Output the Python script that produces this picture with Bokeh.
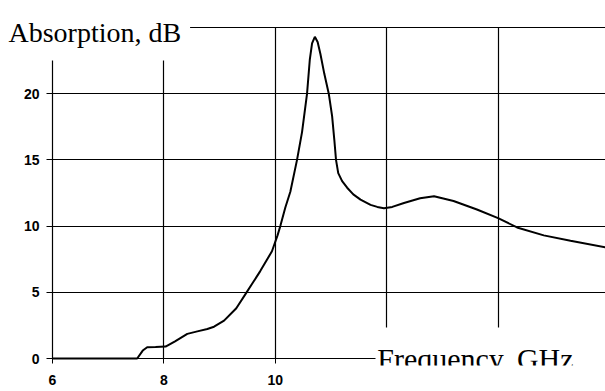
from bokeh.plotting import figure
from bokeh.models import (FixedTicker, Label, BoxAnnotation, Range1d,
                          AllLabels, LinearAxis)
from bokeh.embed import file_html
from bokeh.resources import INLINE

# Data
freq_ghz = [6.0, 7.0, 7.52, 7.62, 7.70, 7.85, 8.03, 8.2, 8.42, 8.6, 8.78, 8.9,
            9.08, 9.3, 9.47, 9.73, 9.94, 10.04, 10.09, 10.18, 10.27, 10.39,
            10.48, 10.57, 10.62, 10.66, 10.71, 10.76, 10.81, 10.88, 10.96,
            11.02, 11.06, 11.09, 11.13, 11.2, 11.29, 11.4, 11.53, 11.71,
            11.83, 11.95, 12.1, 12.31, 12.6, 12.85, 13.2, 13.62, 14.0, 14.34,
            14.82, 15.3, 15.93]
absorption_db = [0, 0, 0, 0.6, 0.85, 0.87, 0.9, 1.3, 1.86, 2.05, 2.23, 2.4,
                 2.86, 3.8, 4.9, 6.6, 8.1, 9.3, 10.0, 11.4, 12.6, 15.0,
                 17.1, 20.0, 22.6, 23.8, 24.3, 23.9, 23.0, 21.5, 20.0,
                 18.3, 16.5, 15.0, 14.0, 13.4, 12.9, 12.4, 12.0, 11.6,
                 11.45, 11.35, 11.45, 11.75, 12.1, 12.26, 11.9, 11.25, 10.6,
                 9.9, 9.3, 8.9, 8.4]

x_ticks = [6, 8, 10]
x_grid = [8, 10, 12, 14]
y_ticks = [0, 5, 10, 15, 20]
y_grid = [5, 10, 15, 20, 25]

W, H = 605, 391
BOTTOM_PANEL = 26             # height reserved for the x tick labels
FRAME_BOTTOM = H - BOTTOM_PANEL
KX, KY = 55.7, 13.24          # pixels per GHz / per dB
X0_PX, Y0_PX = 52, 358        # pixel position of (6 GHz, 0 dB)

p = figure(width=W, height=H, output_backend="svg", toolbar_location=None,
           x_axis_location=None,
           x_range=Range1d(6 - X0_PX / KX, 6 + (W - X0_PX) / KX),
           y_range=Range1d(-(FRAME_BOTTOM - Y0_PX) / KY, Y0_PX / KY),
           min_border=0, min_border_left=0, min_border_right=0,
           min_border_top=0, min_border_bottom=BOTTOM_PANEL)
p.outline_line_color = None
p.background_fill_color = "white"
p.border_fill_color = "white"

# grids
p.xgrid.ticker = FixedTicker(ticks=x_grid)
p.ygrid.ticker = FixedTicker(ticks=y_grid)
p.xgrid.cross_bounds = (0, 25)
p.ygrid.cross_bounds = (6, 17)
for g in (p.xgrid, p.ygrid):
    g.grid_line_color = "black"
    g.grid_line_width = 1.2
    g.grid_line_alpha = 1.0

# white boxes behind the axis titles (drawn under everything else)
p.add_layout(BoxAnnotation(right=8.47, bottom=22.5, fill_color="white",
                           fill_alpha=1, line_color=None, level="underlay"))
p.add_layout(BoxAnnotation(left=11.8, top=2.34, fill_color="white",
                           fill_alpha=1, line_color=None, level="underlay"))

# x axis line and ticks at 0 dB
xa = LinearAxis(fixed_location=0, ticker=FixedTicker(ticks=x_ticks),
                bounds=(6, 11.8), major_tick_in=0, major_tick_out=5,
                minor_tick_line_color=None, axis_line_color="black",
                axis_line_width=1.2, major_label_text_font_size="0px")
xa.major_label_overrides = {t: "" for t in x_ticks}
p.add_layout(xa, "below")

# x tick labels in the bottom panel
xl = LinearAxis(ticker=FixedTicker(ticks=x_ticks), axis_line_color=None,
                major_tick_line_color=None, minor_tick_line_color=None,
                major_tick_in=0, major_tick_out=0, major_label_standoff=9,
                major_label_policy=AllLabels(),
                major_label_text_font="Liberation Sans",
                major_label_text_font_style="bold",
                major_label_text_font_size="14px",
                major_label_text_color="black")
p.add_layout(xl, "below")

ya = p.yaxis[0]
ya.fixed_location = 6
ya.ticker = FixedTicker(ticks=y_ticks)
ya.bounds = (0, 22.5)
ya.major_label_policy = AllLabels()
ya.major_tick_in = 0
ya.major_tick_out = 6
ya.minor_tick_line_color = None
ya.major_label_standoff = 7
ya.major_label_text_font = "Liberation Sans"
ya.major_label_text_font_style = "bold"
ya.major_label_text_font_size = "14px"
ya.major_label_text_color = "black"
ya.axis_line_color = "black"
ya.axis_line_width = 1.2

# curve
p.line(freq_ghz, absorption_db, line_color="black", line_width=2)

p.add_layout(Label(x=8, y=FRAME_BOTTOM - 32, x_units="screen",
                   y_units="screen",
                   text="Absorption, dB", text_font="Liberation Serif",
                   text_font_size="28px", text_color="black",
                   text_baseline="alphabetic", text_align="left"))
p.add_layout(Label(x=11.83, y=0, text="Frequency, GHz",
                   text_font="Liberation Serif", text_font_size="30px",
                   text_color="black", text_baseline="alphabetic",
                   text_align="left"))

open("out.html", "w").write(file_html(p, INLINE))
